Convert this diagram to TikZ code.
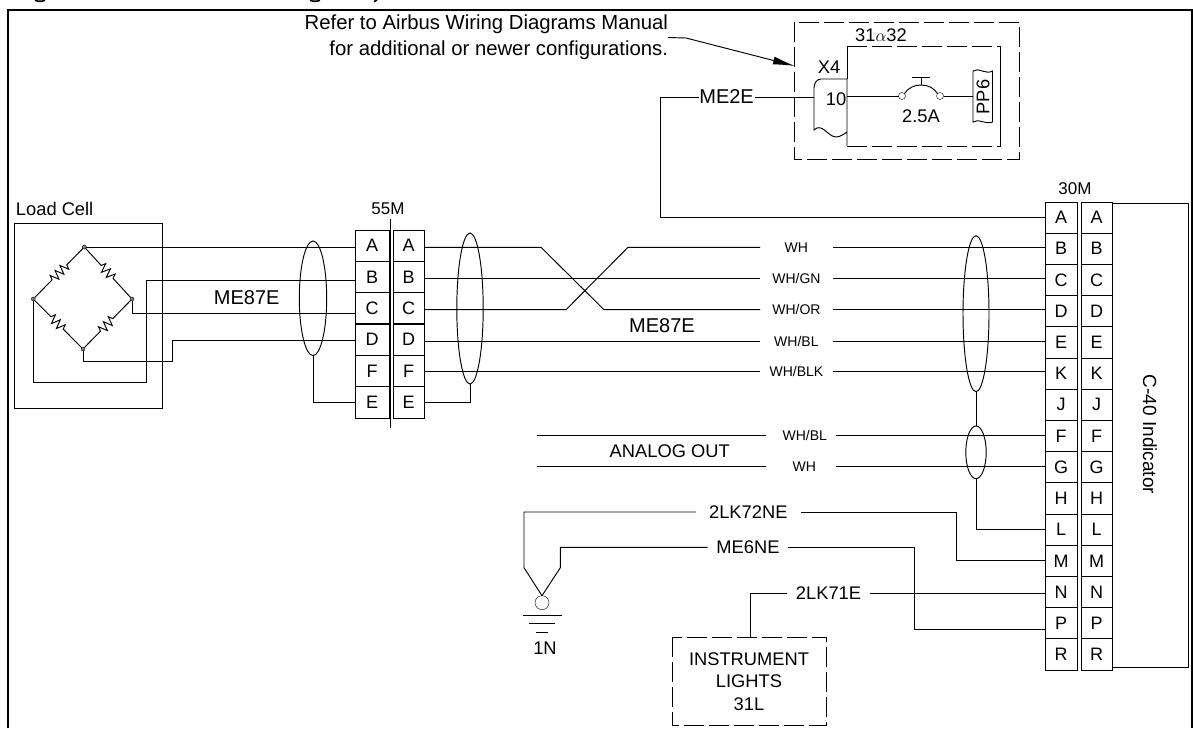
\documentclass[tikz,border=0pt]{standalone}
\usepackage{fontspec}
\setmainfont{Liberation Sans}
\usetikzlibrary{arrows.meta,shapes.geometric,decorations.pathmorphing}
\newcommand{\txtsize}[1]{\fontsize{#1}{#1}\selectfont}
\tikzset{
  wire/.style={line width=0.95pt},
  pinbox/.style={draw,line width=0.95pt,minimum height=31.2pt,inner sep=0pt,outer sep=0pt,font=\txtsize{18}},
  pinA/.style={pinbox,minimum width=34pt},
  pinB/.style={pinbox,minimum width=31pt},
  pinC/.style={pinbox,minimum width=32pt},
  shield/.style={draw,ellipse,line width=0.95pt,inner sep=0pt,outer sep=0pt},
  wirelbl/.style={inner sep=0pt,outer sep=0pt,font=\txtsize{14}},
  biglbl/.style={inner sep=0pt,outer sep=0pt,font=\txtsize{18.3}},
  joint/.style={draw,circle,fill=gray,inner sep=0pt,outer sep=0pt,minimum size=4pt},
  dashbox/.style={line width=0.95pt,dash pattern=on 20pt off 5pt},
  resist/.style={wire,decorate,decoration={zigzag,segment length=7pt,amplitude=4.5pt,pre length=23pt,post length=23pt}}
}
\begin{document}
\begin{tikzpicture}[x=1pt,y=-1pt]
\useasboundingbox (0,0) rectangle (1193,728);
\draw[line width=2pt] (7.5,728) -- (7.5,9.5) -- (1192,9.5) -- (1192,728);

% what is left of the cut off heading
\draw[line width=1.6pt] (35,0.3) .. controls (38,1.6) and (42,1.6) .. (45,0.3);
\draw[line width=1.6pt] (310,0.3) .. controls (313,1.6) and (317,1.6) .. (320,0.3);
\draw[line width=1.6pt] (374,1.6) -- (377,0);

% callout
\node[inner sep=0pt,outer sep=0pt,align=right,anchor=east,font=\fontsize{20.3}{26.5}\selectfont] (refer) at (668,37.5) {Refer to Airbus Wiring Diagrams Manual\\for additional or newer configurations.};
\coordinate (leader) at (686,38);
\coordinate (tip) at (795,66);
\draw[wire,-{Latex[length=22pt,width=8pt]}] (refer.east) -- (leader) -- (tip);

% circuit breaker panel
\draw[dashbox] (794,22) rectangle (1019.5,159);
\draw[wire] (847,79) -- (847,46);
\draw[wire] (1000.5,46) -- (1000.5,146);
\draw[dashbox] (847,46) -- (1000.5,46);
\draw[dashbox] (847,146) -- (1000.5,146);
\draw[wire] (847,146) -- (847,79) -- (821,79) .. controls (817,79) and (814,83) .. (814,88) -- (814,130) .. controls (822,122) and (828,137) .. (836,137) .. controls (840,137) and (844,134) .. (847,132);
\node[biglbl] (plane) at (881,35) {31$\alpha$32};
\node[biglbl] (x4) at (829,67) {X4};
\node[biglbl] (ten) at (836,99) {10};
\node[biglbl] (amps) at (921,116) {2.5A};
\node[draw,circle,inner sep=0pt,outer sep=0pt,minimum size=7pt] (swL) at (902,96) {};
\node[draw,circle,inner sep=0pt,outer sep=0pt,minimum size=7pt] (swR) at (940,96) {};
\node[biglbl,rotate=90] (pp6) at (983,97) {PP6};
\coordinate (x4w) at (814,97);
\coordinate (x4e) at (847,96);
\coordinate (ppw) at (973,96);
\draw[wire] (973,71) .. controls (978,67) and (986,75) .. (992.5,71) -- (992.5,122) .. controls (986,125) and (978,118) .. (973,122) -- cycle;
\draw[wire] (x4e) -- (swL);
\draw[wire] (swR) -- (ppw);
\draw[wire] (swL.north east) .. controls (908,88) and (914,85) .. (921,85) .. controls (928,85) and (934,88) .. (swR.north west);
\draw[wire] (921,85) -- (921,77);
\draw[wire] (912,77) -- (930,77);

% load cell
\node[biglbl,anchor=west] (cell) at (16,209) {Load Cell};
\draw[wire] (14.7,223) rectangle (162.7,408.3);
\node[joint] (brT) at (84.3,247) {};
\node[joint] (brR) at (132,299) {};
\node[joint] (brB) at (83,349) {};
\node[joint] (brL) at (33.3,299) {};
\draw[resist] (brT) -- (brL);
\draw[resist] (brT) -- (brR);
\draw[resist] (brL) -- (brB);
\draw[resist] (brB) -- (brR);
\node[biglbl,font=\txtsize{20}] (cable1) at (246.7,298) {ME87E};

% plug 55M
\node[biglbl,font=\txtsize{17}] (plug) at (388,209) {55M};
\draw[line width=0.6pt] (390.7,219) -- (390.7,428);
\node[pinA,minimum height=31.3pt] (LA) at (372,245.7) {A};
\node[pinA,minimum height=31.3pt] (LB) at (372,277) {B};
\node[pinA,minimum height=31.3pt] (LC) at (372,308.3) {C};
\node[pinA,minimum height=31.3pt] (LD) at (372,339.7) {D};
\node[pinA,minimum height=31.3pt] (LF) at (372,371) {F};
\node[pinA,minimum height=31.3pt] (LE) at (372,402.4) {E};
\node[pinB,minimum height=31.3pt] (RA) at (408.5,245.7) {A};
\node[pinB,minimum height=31.3pt] (RB) at (408.5,277) {B};
\node[pinB,minimum height=31.3pt] (RC) at (408.5,308.3) {C};
\node[pinB,minimum height=31.3pt] (RD) at (408.5,339.7) {D};
\node[pinB,minimum height=31.3pt] (RF) at (408.5,371) {F};
\node[pinB,minimum height=31.3pt] (RE) at (408.5,402.4) {E};

\coordinate (bl1) at (146.3,280);
\coordinate (bl2) at (146.3,382.3);
\coordinate (cl1) at (132,313.3);
\coordinate (dl1) at (83,361);
\coordinate (dl2) at (172.3,340.3);
\draw[wire] (brT) -- (brT -| LA.west);
\draw[wire] (bl1 -| LB.west) -- (bl1) -- (bl2) -| (brL);
\draw[wire] (brR) -- (cl1) -- (cl1 -| LC.west);
\draw[wire] (brB) -- (dl1) -| (dl2) -- (dl2 -| LD.west);
\node[shield,minimum width=27.4pt,minimum height=114.6pt] (sh1) at (313,298.3) {};
\draw[wire] (sh1.south) |- (LE.west);

% wire colours
\node[wirelbl,minimum width=72.7pt] (wlB) at (796.4,247.3) {WH};
\node[wirelbl,minimum width=72.7pt] (wlC) at (796.4,278.7) {WH/GN};
\node[wirelbl,minimum width=72.7pt] (wlD) at (796.4,309.7) {WH/OR};
\node[wirelbl,minimum width=72.7pt] (wlE) at (796.4,341.3) {WH/BL};
\node[wirelbl,minimum width=72.7pt] (wlK) at (796.4,371.3) {WH/BLK};
\node[wirelbl,minimum width=70.3pt] (wlF) at (804.8,435.2) {WH/BL};
\node[wirelbl,minimum width=70.3pt] (wlG) at (804.3,466.8) {WH};
\node[biglbl,font=\txtsize{20}] (cable2) at (662,326) {ME87E};
\node[biglbl] (analog) at (669.7,451) {ANALOG OUT};
\coordinate (ana1) at (537,435.2);
\coordinate (ana2) at (537,466.8);

% indicator plug 30M
\node[biglbl,font=\txtsize{17}] (ind) at (1075,189) {30M};
\node[pinC] (PA) at (1061,217.6) {A};
\node[pinC] (PB) at (1061,248.8) {B};
\node[pinC] (PC) at (1061,280) {C};
\node[pinC] (PD) at (1061,311.2) {D};
\node[pinC] (PE) at (1061,342.4) {E};
\node[pinC] (PK) at (1061,373.6) {K};
\node[pinC] (PJ) at (1061,404.8) {J};
\node[pinC] (PF) at (1061,436) {F};
\node[pinC] (PG) at (1061,467.2) {G};
\node[pinC] (PH) at (1061,498.4) {H};
\node[pinC] (PL) at (1061,529.6) {L};
\node[pinC] (PM) at (1061,560.8) {M};
\node[pinC] (PN) at (1061,592) {N};
\node[pinC] (PP) at (1061,623.2) {P};
\node[pinC] (PR) at (1061,654.4) {R};
\node[pinB] (IA) at (1096.5,217.6) {A};
\node[pinB] (IB) at (1096.5,248.8) {B};
\node[pinB] (IC) at (1096.5,280) {C};
\node[pinB] (ID) at (1096.5,311.2) {D};
\node[pinB] (IE) at (1096.5,342.4) {E};
\node[pinB] (IK) at (1096.5,373.6) {K};
\node[pinB] (IJ) at (1096.5,404.8) {J};
\node[pinB] (IF) at (1096.5,436) {F};
\node[pinB] (IG) at (1096.5,467.2) {G};
\node[pinB] (IH) at (1096.5,498.4) {H};
\node[pinB] (IL) at (1096.5,529.6) {L};
\node[pinB] (IM) at (1096.5,560.8) {M};
\node[pinB] (IN) at (1096.5,592) {N};
\node[pinB] (IP) at (1096.5,623.2) {P};
\node[pinB] (IR) at (1096.5,654.4) {R};
\coordinate (boxT) at (1112,203);
\coordinate (boxB) at (1112,667);
\draw[wire] (boxT) -- (1188,203) -- (1188,667) -- (boxB);
\node[biglbl,rotate=-90,font=\txtsize{19}] (c40) at (1150,434.5) {C-40 Indicator};

% wires across the middle
\coordinate (ca1) at (541,247.3);
\coordinate (ca2) at (604,309.7);
\coordinate (cc1) at (566,309.7);
\coordinate (cc2) at (628,247.3);
\draw[wire] (ca1 -| RA.east) -- (ca1) -- (ca2) -- (wlD.west);
\draw[wire] (cc1 -| RC.east) -- (cc1) -- (cc2) -- (wlB.west);
\draw[wire] (wlC.west -| RB.east) -- (wlC.west);
\draw[wire] (wlE.west -| RD.east) -- (wlE.west);
\draw[wire] (wlK.west -| RF.east) -- (wlK.west);
\node[shield,minimum width=26.4pt,minimum height=151pt] (sh2) at (470,308.5) {};
\draw[wire] (RE.east) -| (sh2.south);
\draw[wire] (wlB.east) -- (wlB.east -| PB.west);
\draw[wire] (wlC.east) -- (wlC.east -| PC.west);
\draw[wire] (wlD.east) -- (wlD.east -| PD.west);
\draw[wire] (wlE.east) -- (wlE.east -| PE.west);
\draw[wire] (wlK.east) -- (wlK.east -| PK.west);
\draw[wire] (ana1) -- ([xshift=-4pt]wlF.west);
\draw[wire] (ana2) -- ([xshift=-3.5pt]wlG.west);
\draw[wire] ([xshift=-4pt]wlF.east) -- (wlF.east -| PF.west);
\draw[wire] ([xshift=-3.5pt]wlG.east) -- (wlG.east -| PG.west);
\node[shield,minimum width=26pt,minimum height=156pt] (sh3) at (976,313.7) {};
\node[shield,minimum width=20.4pt,minimum height=52.7pt] (sh4) at (976,452.3) {};
\draw[wire] (sh3.south) -- (sh4.north);
\draw[wire] (sh4.south) |- (PL.west);

% top feed
\node[biglbl,font=\txtsize{20},minimum width=56pt] (wlME2) at (726.6,97) {ME2E};
\coordinate (me1) at (660,97);
\draw[wire] (PA.west) -| (me1) -- (wlME2.west);
\draw[wire] (wlME2.east) -- (x4w);

% lower wires
\node[biglbl,minimum width=104.7pt] (wl72) at (748.3,512) {2LK72NE};
\node[biglbl,minimum width=80.6pt] (wl6) at (748,547.3) {ME6NE};
\node[biglbl,minimum width=83pt] (wl71) at (828.5,593.3) {2LK71E};
\node[draw,circle,inner sep=0pt,outer sep=0pt,minimum size=14pt] (gnd) at (542,602.7) {};
\node[biglbl] (lbl1N) at (545,648.3) {1N};
\coordinate (gl) at (524,567.7);
\coordinate (gr) at (560.3,567.7);
\coordinate (m1) at (956,560.7);
\coordinate (p1) at (914,629);
\draw[wire] (wl72.west) -| (gl) -- (gnd.north);
\draw[wire] (wl6.west) -| (gr) -- (gnd.north);
\draw[wire] (wl72.east) -| (m1) -- (m1 -| PM.west);
\draw[wire] (wl6.east) -| (p1) -- (p1 -| PP.west);
\draw[wire] (523,615.3) -- (561.7,615.3);
\draw[wire] (529.3,623.7) -- (555,623.7);
\draw[wire] (536.3,632) -- (548.3,632);

% instrument lights
\draw[dashbox] (672.3,637) rectangle (826.7,725);
\node[biglbl,align=center,font=\fontsize{18.3}{22.5}\selectfont] (lights) at (749,681.5) {INSTRUMENT\\LIGHTS\\31L};
\coordinate (lt) at (750.7,637);
\draw[wire] (wl71.west) -| (lt);
\draw[wire] (wl71.east) -- (wl71.east -| PN.west);
\end{tikzpicture}
\end{document}
